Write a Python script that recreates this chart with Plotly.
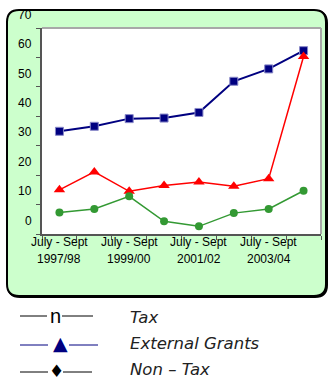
import plotly.graph_objects as go

# Financial years (July - Sept quarter of each year)
periods = ["1997/98", "1998/99", "1999/00", "2000/01",
           "2001/02", "2002/03", "2003/04", "2004/05"]
quarter_label = "July - Sept"

tax = [30.4, 32.1, 34.7, 34.9, 36.8, 47.4, 51.6, 57.8]
external_grants = [10.5, 16.6, 10.0, 12.0, 13.2, 11.7, 14.3, 55.8]
non_tax = [2.8, 4.0, 8.3, -0.2, -1.9, 2.6, 4.0, 10.2]

y_labels = [0, 10, 20, 30, 40, 50, 60, 70]
labelled_periods = periods[0::2]

Y_RANGE = [-4.5, 65.5]

W, H = 328, 381
L, R, T, B = 42, 7, 28, 147
PW, PH = W - L - R, H - T - B


def px(x):
    return (x - L) / PW


def py(y):
    return (T + PH - y) / PH


def value_to_paper(v):
    lo, hi = Y_RANGE
    return (v - lo) / (hi - lo)


def rounded_rect(x0, y0, x1, y1, r):
    rx, ry = r / PW, r / PH
    a, b, c, d = px(x0), py(y1), px(x1), py(y0)  # left, bottom, right, top
    return (f"M {a+rx},{d} L {c-rx},{d} Q {c},{d} {c},{d-ry} "
            f"L {c},{b+ry} Q {c},{b} {c-rx},{b} "
            f"L {a+rx},{b} Q {a},{b} {a},{b+ry} "
            f"L {a},{d-ry} Q {a},{d} {a+rx},{d} Z")


fig = go.Figure()

fig.add_trace(go.Scatter(
    x=periods, y=tax, mode="lines+markers", name="Tax",
    line=dict(color="#000080", width=2),
    marker=dict(symbol="square", size=8, color="#000080",
                line=dict(color="#8888c8", width=1)),
))
fig.add_trace(go.Scatter(
    x=periods, y=external_grants, mode="lines+markers", name="External Grants",
    line=dict(color="#ff0000", width=1.5),
    marker=dict(symbol="triangle-up", size=10, color="#ff0000"),
))
fig.add_trace(go.Scatter(
    x=periods, y=non_tax, mode="lines+markers", name="Non - Tax",
    line=dict(color="#339933", width=1.5),
    marker=dict(symbol="circle", size=8, color="#339933"),
))

shapes = [
    # shadowed rounded panel behind the plot
    dict(type="path", xref="paper", yref="paper", layer="below",
         path=rounded_rect(8, 11, 327, 297, 12),
         line=dict(color="black", width=2), fillcolor="black"),
    dict(type="path", xref="paper", yref="paper", layer="below",
         path=rounded_rect(7, 10, 326, 296, 12),
         line=dict(color="black", width=2), fillcolor="#ccffcc"),
    # white plotting area
    dict(type="rect", xref="paper", yref="paper", layer="below",
         x0=0, x1=1, y0=0, y1=1, line=dict(width=0), fillcolor="white"),
    # grey frame on top and right of the plot area
    dict(type="line", xref="paper", yref="paper", x0=0, x1=1, y0=1, y1=1,
         line=dict(color="#a8a8a8", width=2)),
    dict(type="line", xref="paper", yref="paper", x0=1, x1=1, y0=0, y1=1,
         line=dict(color="#a8a8a8", width=2)),
]

# legend key lines
key_rows = [
    (316, "black", (20, 47), (62, 93)),
    (345, "#000080", (20, 48), (69, 98)),
    (372, "black", (20, 48), (63, 92)),
]
for y, col, (l0, l1), (r0, r1) in key_rows:
    for a, b in ((l0, l1), (r0, r1)):
        shapes.append(dict(type="line", xref="paper", yref="paper",
                           x0=px(a), x1=px(b), y0=py(y), y1=py(y),
                           line=dict(color=col, width=1)))

annotations = []
tick_font = dict(family="Liberation Sans, Arial", size=12, color="black")

for v in y_labels:
    annotations.append(dict(x=0, xref="paper", y=value_to_paper(v), yref="paper",
                            text=str(v), showarrow=False, xanchor="right",
                            yanchor="middle", xshift=-8, font=tick_font))

for p in labelled_periods:
    annotations.append(dict(x=p, xref="x", y=0, yref="paper", text=quarter_label,
                            showarrow=False, xanchor="center", yanchor="middle",
                            yshift=-7.5, font=tick_font))
    annotations.append(dict(x=p, xref="x", y=0, yref="paper", text=p,
                            showarrow=False, xanchor="center", yanchor="middle",
                            yshift=-25, font=tick_font))

# legend glyphs and names
glyphs = [
    (55, 316, "n", "black", 20, "Liberation Sans, Arial"),
    (60, 343, "▲", "#000080", 19, "DejaVu Sans"),
    (56, 370.5, "♦", "black", 17, "DejaVu Sans"),
]
for x, y, t, col, size, fam in glyphs:
    annotations.append(dict(x=px(x), y=py(y), xref="paper", yref="paper", text=t,
                            showarrow=False, xanchor="center", yanchor="middle",
                            font=dict(family=fam, size=size, color=col)))

names = [(317, "Tax"), (343, "External Grants"), (369, "Non – Tax")]
for y, t in names:
    annotations.append(dict(x=px(128), y=py(y), xref="paper", yref="paper", text=t,
                            showarrow=False, xanchor="left", yanchor="middle",
                            font=dict(family="DejaVu Sans", size=16.5, color="#222222",
                                      style="italic")))

fig.update_layout(
    width=W, height=H,
    margin=dict(l=L, r=R, t=T, b=B, pad=0),
    paper_bgcolor="white", plot_bgcolor="white",
    showlegend=False,
    shapes=shapes, annotations=annotations,
    xaxis=dict(type="category", range=[-0.5, 7.5], showgrid=False, zeroline=False,
               showline=True, linecolor="#555555", linewidth=2,
               ticks="outside", ticklen=4, tickcolor="#555555", tickwidth=1,
               tickson="boundaries", showticklabels=False, fixedrange=True),
    yaxis=dict(range=Y_RANGE, showgrid=False, zeroline=False,
               showline=True, linecolor="#555555", linewidth=2,
               tickvals=[Y_RANGE[0] + 10 * k for k in range(8)],
               ticks="outside", ticklen=4, tickcolor="#555555", tickwidth=1,
               showticklabels=False, fixedrange=True),
)

fig.write_html("out.html")
